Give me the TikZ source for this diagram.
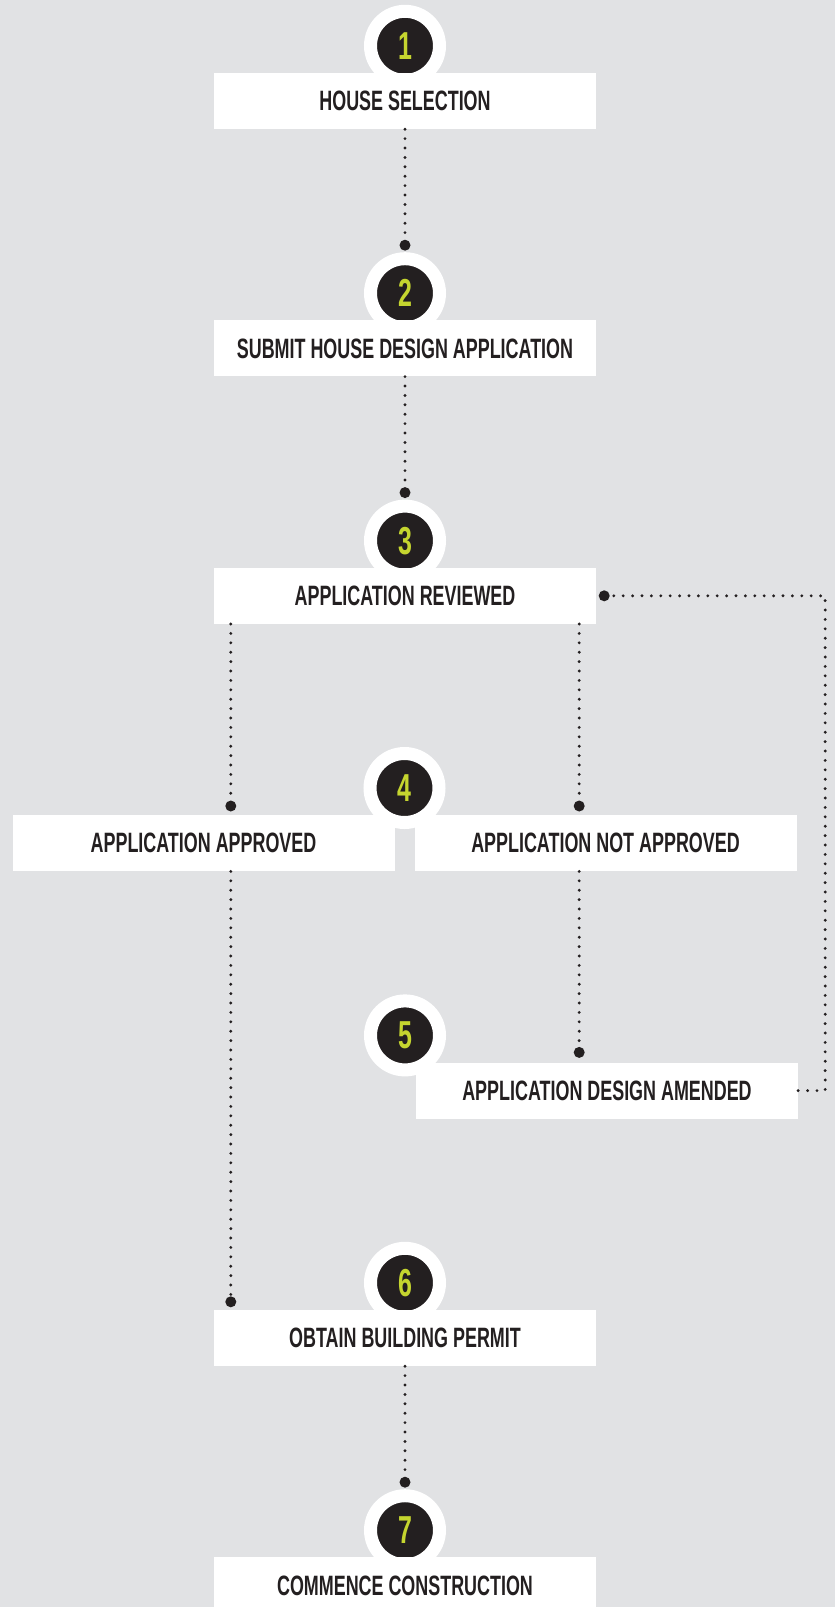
\documentclass[tikz,border=0pt]{standalone}
\usepackage{fontspec}
\newfontfamily\stepfont{Liberation Sans}[FakeStretch=0.64]
\definecolor{bggray}{HTML}{E1E2E4}
\definecolor{stepdark}{HTML}{231F20}
\definecolor{steplime}{HTML}{C5D52F}
\usetikzlibrary{positioning,calc,backgrounds}

\begin{document}
\begin{tikzpicture}[
        x=1pt, y=1pt,
        node distance=191pt,
        stepbox/.style={rectangle, fill=white, minimum width=382pt, minimum height=56pt, inner sep=0pt, text=stepdark, font=\stepfont\bfseries\fontsize{28}{30}\selectfont},
        ring/.style={circle, fill=stepdark, draw=white, line width=13pt, minimum size=69pt, inner sep=0pt, text=steplime, font=\stepfont\bfseries\fontsize{39}{40}\selectfont},
        bigdot/.style={circle, fill=stepdark, minimum size=11pt, inner sep=0pt},
        link/.style={stepdark, line width=3.2pt, line cap=round, dash pattern=on 0pt off 9.4pt}
    ]
        \useasboundingbox (0,0) rectangle (835,-1607);

        \node[stepbox] (sel) at (405,-101) {HOUSE SELECTION};
        \node[stepbox, below=of sel] (sub) {SUBMIT HOUSE DESIGN APPLICATION};
        \node[stepbox, below=of sub] (rev) {APPLICATION REVIEWED};
        \node[stepbox, below=of rev, xshift=-201.5pt] (appr) {APPLICATION APPROVED};
        \node[stepbox, below=of rev, xshift=200.5pt] (nap) {APPLICATION NOT APPROVED};
        \node[stepbox, below=of nap, xshift=1.5pt] (amd) {APPLICATION DESIGN AMENDED};
        \node[stepbox, below=of amd, xshift=-202pt] (perm) {OBTAIN BUILDING PERMIT};
        \node[stepbox, below=of perm] (com) {COMMENCE CONSTRUCTION};

        \begin{scope}[on background layer]
            \fill[bggray] (0,0) rectangle (835,-1607);
            \node[ring] (n1) at ($(sel.north)+(0,27)$) {1};
            \node[ring] (n2) at ($(sub.north)+(0,27)$) {2};
            \node[ring] (n3) at ($(rev.north)+(0,27)$) {3};
            \node[ring] (n4) at ($(appr.north east)!0.5!(nap.north west)+(0,27)$) {4};
            \node[ring] (n5) at ($(rev.north |- amd.north)+(0,27)$) {5};
            \node[ring] (n6) at ($(perm.north)+(0,27)$) {6};
            \node[ring] (n7) at ($(com.north)+(0,27)$) {7};
        \end{scope}

        \coordinate (l3) at ($(rev.south west)+(17,0)$);
        \coordinate (r3) at ($(rev.south east)+(-17,0)$);
        \coordinate (bend) at ($(amd.east)+(27,0)$);
        \node[bigdot] (d2) at ($(sub.north)+(0,75)$) {};
        \node[bigdot] (d3) at ($(rev.north)+(0,75)$) {};
        \node[bigdot] (d4l) at ($(l3 |- appr.north)+(0,9)$) {};
        \node[bigdot] (d4r) at ($(r3 |- nap.north)+(0,9)$) {};
        \node[bigdot] (d5) at ($(r3 |- amd.north)+(0,10)$) {};
        \node[bigdot] (d6) at ($(l3 |- perm.north)+(0,8)$) {};
        \node[bigdot] (d7) at ($(com.north)+(0,75)$) {};
        \node[bigdot] (dloop) at ($(rev.east)+(8,0)$) {};

        \draw[link] (sel.south) -- (d2.center);
        \draw[link] (sub.south) -- (d3.center);
        \draw[link] (l3) -- (d4l.center);
        \draw[link] (r3) -- (d4r.center);
        \draw[link] (l3 |- appr.south) -- (d6.center);
        \draw[link] (r3 |- nap.south) -- (d5.center);
        \draw[link] (amd.east) -- (bend) |- (dloop.center);
        \draw[link] (perm.south) -- (d7.center);
    \end{tikzpicture}
\end{document}
